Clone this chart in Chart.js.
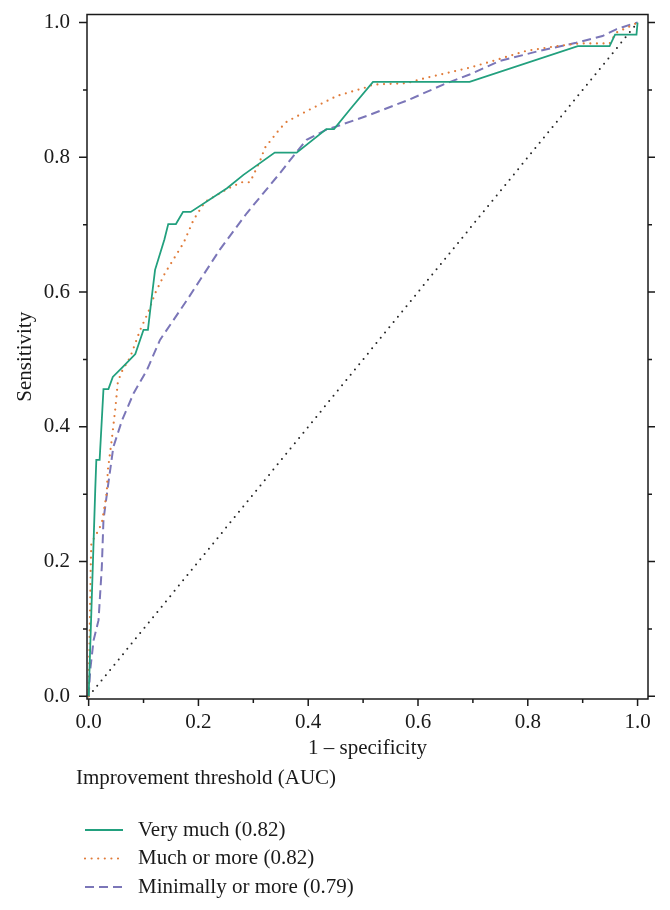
<!DOCTYPE html>
<html>
<head>
<meta charset="utf-8">
<script src="https://cdn.jsdelivr.net/npm/chart.js@4.4.0/dist/chart.umd.min.js"></script>
<style>
    html, body { margin: 0; padding: 0; background: #fff; }
    #wrap { width: 670px; height: 910px; }
</style>
</head>
<body>
<div id="wrap"><canvas id="roc"></canvas></div>
<script>
// ROC curves
const veryMuchX = [0, 0.012, 0.014, 0.020, 0.027, 0.036, 0.044, 0.061, 0.085, 0.100, 0.108, 0.114, 0.121, 0.138, 0.145, 0.159, 0.172, 0.186, 0.252, 0.282, 0.339, 0.379, 0.433, 0.447, 0.476, 0.518, 0.685, 0.694, 0.891, 0.949, 0.959, 0.998, 1.0];
const veryMuchY = [0, 0.306, 0.351, 0.351, 0.456, 0.456, 0.474, 0.488, 0.508, 0.544, 0.544, 0.586, 0.633, 0.678, 0.701, 0.701, 0.719, 0.719, 0.754, 0.774, 0.807, 0.807, 0.842, 0.842, 0.871, 0.912, 0.912, 0.912, 0.965, 0.965, 0.982, 0.982, 1.0];

const muchOrMoreX = [0, 0.002, 0.004, 0.005, 0.012, 0.024, 0.027, 0.033, 0.035, 0.042, 0.049, 0.053, 0.059, 0.076, 0.094, 0.109, 0.121, 0.139, 0.173, 0.191, 0.212, 0.255, 0.279, 0.294, 0.312, 0.321, 0.349, 0.361, 0.403, 0.452, 0.506, 0.518, 0.579, 0.615, 0.694, 0.736, 0.797, 0.852, 0.894, 0.949, 0.961, 0.985, 1.0];
const muchOrMoreY = [0, 0.100, 0.200, 0.229, 0.237, 0.257, 0.272, 0.302, 0.336, 0.380, 0.430, 0.465, 0.480, 0.504, 0.544, 0.571, 0.598, 0.628, 0.673, 0.707, 0.734, 0.754, 0.763, 0.763, 0.794, 0.814, 0.843, 0.853, 0.871, 0.891, 0.904, 0.908, 0.910, 0.918, 0.933, 0.943, 0.958, 0.965, 0.969, 0.969, 0.985, 0.994, 1.0];

const minimallyX = [0, 0.003, 0.009, 0.018, 0.024, 0.027, 0.035, 0.045, 0.061, 0.082, 0.106, 0.130, 0.179, 0.239, 0.288, 0.349, 0.367, 0.397, 0.433, 0.452, 0.512, 0.585, 0.646, 0.694, 0.749, 0.821, 0.888, 0.936, 0.961, 0.994, 1.0];
const minimallyY = [0, 0.040, 0.083, 0.113, 0.192, 0.262, 0.311, 0.370, 0.410, 0.450, 0.484, 0.529, 0.588, 0.663, 0.717, 0.777, 0.796, 0.826, 0.841, 0.846, 0.863, 0.886, 0.908, 0.923, 0.943, 0.958, 0.970, 0.980, 0.990, 0.999, 1.0];

const chanceX = [0, 1];
const chanceY = [0, 1];

const seriesNames = ['Very much (0.82)', 'Much or more (0.82)', 'Minimally or more (0.79)'];
const legendTitle = 'Improvement threshold (AUC)';
const tickValues = [0, 0.1, 0.2, 0.3, 0.4, 0.5, 0.6, 0.7, 0.8, 0.9, 1.0];

const FONT = '"Liberation Serif", "Times New Roman", serif';
const INK = '#1a1a1a';

const toPoints = (xs, ys) => xs.map((x, i) => ({ x, y: ys[i] }));
const isMajor = v => Math.round(v * 10) % 2 === 0;
const setTicks = scale => { scale.ticks = tickValues.map(v => ({ value: v })); };

// frame + tick marks (major / minor) drawn from the scales
const framePlugin = {
    id: 'frame',
    afterDraw(chart) {
        const { ctx, chartArea: a, scales: { x, y } } = chart;
        ctx.save();
        ctx.strokeStyle = INK;
        ctx.lineWidth = 1.5;
        ctx.strokeRect(a.left, a.top, a.right - a.left, a.bottom - a.top);
        ctx.beginPath();
        tickValues.forEach(v => {
            const big = isMajor(v);
            const py = y.getPixelForValue(v);
            ctx.moveTo(a.left - (big ? 8 : 4), py); ctx.lineTo(a.left, py);
            ctx.moveTo(a.right, py); ctx.lineTo(a.right + (big ? 7 : 4), py);
            const px = x.getPixelForValue(v);
            ctx.moveTo(px, a.bottom); ctx.lineTo(px, a.bottom + (big ? 7 : 4));
        });
        ctx.stroke();
        ctx.restore();
    }
};

// legend block under the axis
const legendPlugin = {
    id: 'rocLegend',
    afterDraw(chart) {
        const ctx = chart.ctx;
        ctx.save();
        ctx.font = '21px ' + FONT;
        ctx.fillStyle = INK;
        ctx.textBaseline = 'middle';
        ctx.fillText(legendTitle, 76, 778);
        seriesNames.forEach((name, i) => {
            const ds = chart.data.datasets[i];
            const ly = 830 + i * 28.5;
            ctx.save();
            ctx.strokeStyle = ds.borderColor;
            ctx.lineWidth = ds.borderWidth;
            ctx.lineCap = ds.borderCapStyle || 'butt';
            ctx.setLineDash(ds.borderDash || []);
            ctx.beginPath();
            ctx.moveTo(85, ly); ctx.lineTo(123, ly);
            ctx.stroke();
            ctx.restore();
            ctx.fillText(name, 138, ly);
        });
        ctx.restore();
    }
};

const gridOpts = { display: true, drawOnChartArea: false, drawTicks: true, tickLength: 8, tickColor: 'rgba(0,0,0,0)' };

new Chart(document.getElementById('roc'), {
    type: 'scatter',
    data: {
        datasets: [
            { label: seriesNames[0], data: toPoints(veryMuchX, veryMuchY), showLine: true, borderColor: '#22a07e', borderWidth: 1.8, pointRadius: 0 },
            { label: seriesNames[1], data: toPoints(muchOrMoreX, muchOrMoreY), showLine: true, borderColor: '#e07b39', borderWidth: 2.2, borderDash: [0, 6.6], borderCapStyle: 'round', pointRadius: 0 },
            { label: seriesNames[2], data: toPoints(minimallyX, minimallyY), showLine: true, borderColor: '#7b76b8', borderWidth: 2, borderDash: [9, 5], pointRadius: 0 },
            { label: 'chance', data: toPoints(chanceX, chanceY), showLine: true, borderColor: '#262626', borderWidth: 2, borderDash: [0, 6.8], borderCapStyle: 'round', pointRadius: 0 }
        ]
    },
    options: {
        responsive: true,
        maintainAspectRatio: false,
        animation: false,
        devicePixelRatio: 1,
        layout: { padding: { top: 14.5, left: 0, right: 0, bottom: 149 } },
        plugins: { legend: { display: false }, tooltip: { enabled: false } },
        scales: {
            x: {
                type: 'linear', position: 'bottom', min: -0.003, max: 1.019,
                afterBuildTicks: setTicks,
                afterFit: s => { s.height = 62; s.paddingLeft = 0; s.paddingRight = 0; },
                ticks: { autoSkip: false, maxRotation: 0, padding: 3, color: INK, font: { family: FONT, size: 21 },
                         callback: v => isMajor(v) ? v.toFixed(1) : '' },
                grid: gridOpts,
                border: { display: false },
                title: { display: true, text: '1 – specificity', color: INK, font: { family: FONT, size: 21 }, padding: { top: 0, bottom: 0 } }
            },
            y: {
                type: 'linear', position: 'left', min: -0.004, max: 1.012,
                afterBuildTicks: setTicks,
                afterFit: s => { s.width = 87; s.paddingTop = 0; s.paddingBottom = 0; },
                ticks: { autoSkip: false, padding: 9, color: INK, font: { family: FONT, size: 21 },
                         callback: v => isMajor(v) ? v.toFixed(1) : '' },
                grid: gridOpts,
                border: { display: false },
                title: { display: true, text: 'Sensitivity', color: INK, font: { family: FONT, size: 21 }, padding: { top: 13, bottom: 0 } }
            },
            y2: {
                type: 'linear', position: 'right', min: -0.004, max: 1.012,
                afterFit: s => { s.width = 22; },
                ticks: { display: false },
                grid: { display: false },
                border: { display: false }
            }
        }
    },
    plugins: [framePlugin, legendPlugin]
});
</script>
</body>
</html>
